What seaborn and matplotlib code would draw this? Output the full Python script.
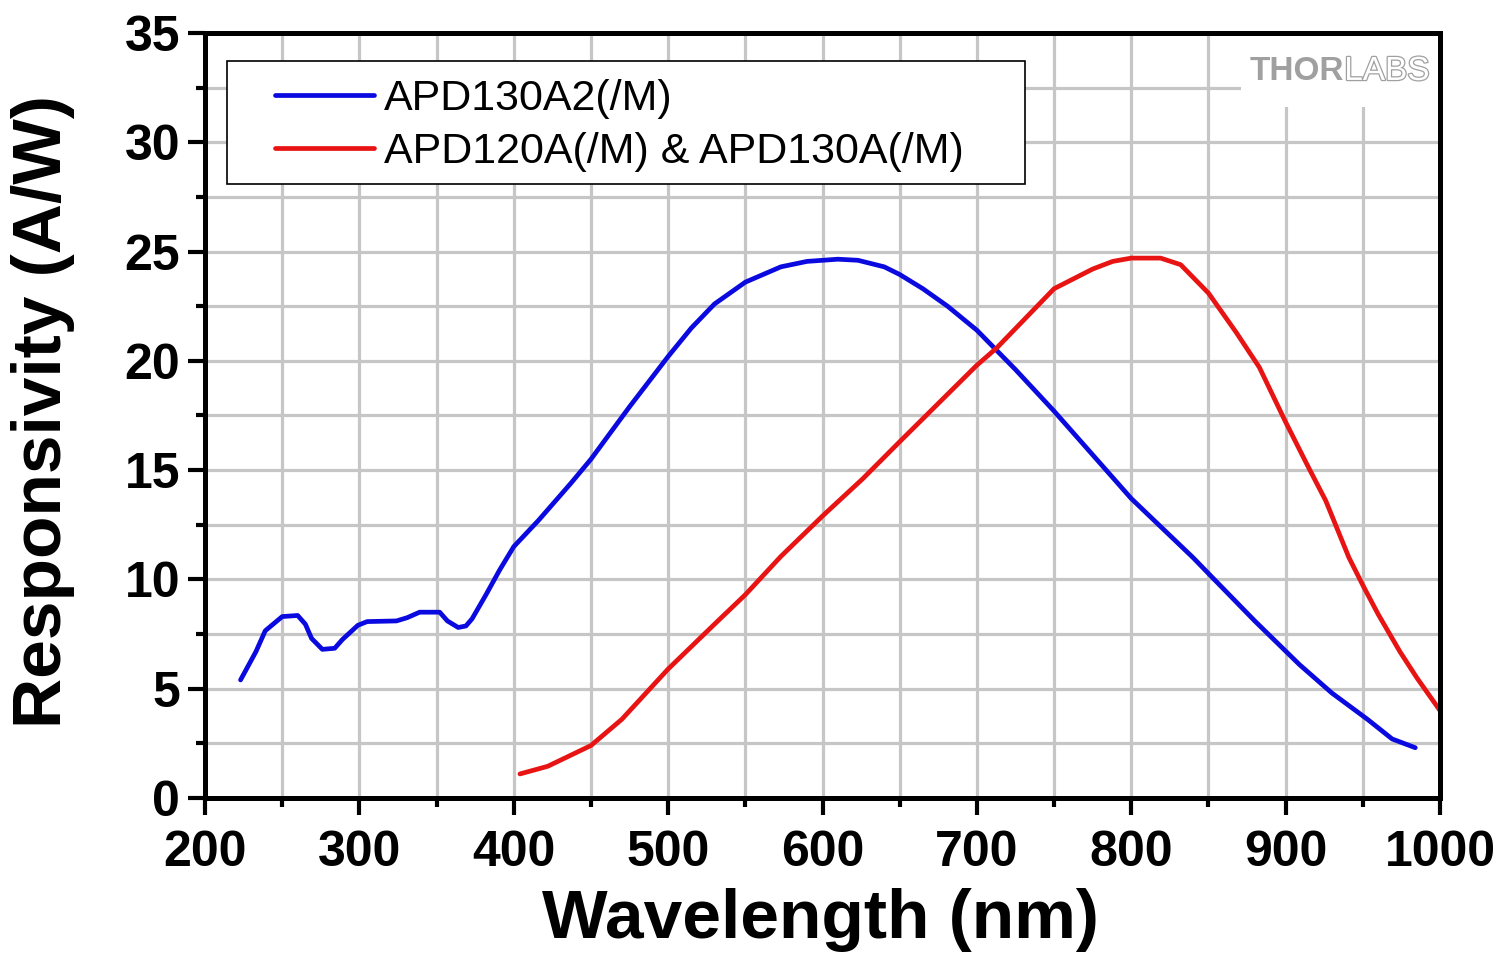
import matplotlib
matplotlib.use("Agg")
import matplotlib.pyplot as plt
import matplotlib.patheffects as pe
from matplotlib.patches import Rectangle
from matplotlib.ticker import MultipleLocator
import seaborn as sns
import pandas as pd

# ---- data ----
blue_nm = [223, 233, 239, 250, 260, 265, 269, 276, 284, 289, 299, 305, 324, 331, 339,
           352, 357, 364, 369, 373, 382, 391, 400, 416, 437, 450, 475, 500, 515, 530, 550,
           573, 590, 610, 623, 640, 650, 665, 681, 700, 725, 750, 775, 800, 840, 851, 880, 909, 930,
           953, 969, 984]
blue_val = [5.4, 6.7, 7.65, 8.3, 8.35, 7.95, 7.3, 6.8, 6.85, 7.25, 7.9, 8.07, 8.1, 8.25, 8.5,
            8.5, 8.1, 7.8, 7.87, 8.2, 9.3, 10.45, 11.5, 12.7, 14.4, 15.5, 17.9, 20.2, 21.5, 22.6, 23.6,
            24.3, 24.55, 24.65, 24.6, 24.3, 23.95, 23.3, 22.5, 21.4, 19.6, 17.7, 15.7, 13.7, 11.0, 10.2, 8.1, 6.1, 4.8,
            3.6, 2.7, 2.3]
red_nm = [404, 422, 450, 470, 500, 530, 550, 573, 600, 626, 650, 690, 700, 713, 750, 775, 788,
          800, 819, 832, 850, 868, 883, 900, 915, 926, 941, 951, 960, 974, 985, 1000]
red_val = [1.1, 1.45, 2.4, 3.6, 5.9, 7.95, 9.3, 11.05, 12.9, 14.6, 16.3, 19.1, 19.8, 20.6, 23.3, 24.2, 24.55,
           24.7, 24.7, 24.4, 23.1, 21.3, 19.7, 17.2, 15.1, 13.6, 11.0, 9.6, 8.4, 6.7, 5.5, 4.0]
series_labels = ["APD130A2(/M)", "APD120A(/M) & APD130A(/M)"]
series_colors = ["#0a0ae0", "#e81414"]
x_ticks = [200, 300, 400, 500, 600, 700, 800, 900, 1000]
y_ticks = [0, 5, 10, 15, 20, 25, 30, 35]

sns.set_style("white")
plt.rcParams["font.family"] = ["Liberation Sans", "DejaVu Sans"]
plt.rcParams["text.color"] = "black"
plt.rcParams["axes.labelcolor"] = "black"
plt.rcParams["xtick.color"] = "black"
plt.rcParams["ytick.color"] = "black"

fig = plt.figure(figsize=(15.11, 9.56), dpi=100)
ax = fig.add_axes([0.1357, 0.1653, 0.8173, 0.8002])

df_b = pd.DataFrame({"nm": blue_nm, "val": blue_val})
df_r = pd.DataFrame({"nm": red_nm, "val": red_val})
sns.lineplot(data=df_b, x="nm", y="val", ax=ax, color=series_colors[0], lw=3.4,
             label=series_labels[0], zorder=4, sort=False)
sns.lineplot(data=df_r, x="nm", y="val", ax=ax, color=series_colors[1], lw=3.4,
             label=series_labels[1], zorder=4, sort=False)

ax.set_xlim(200, 1000)
ax.set_ylim(0, 35)
ax.set_xticks(x_ticks)
ax.set_yticks(y_ticks)
ax.xaxis.set_minor_locator(MultipleLocator(50))
ax.yaxis.set_minor_locator(MultipleLocator(2.5))
ax.set_axisbelow(True)
ax.grid(which="both", color="#c6c6c6", lw=2.3, zorder=0.5)

for s in ax.spines.values():
    s.set_visible(True)
    s.set_color("black")
    s.set_linewidth(3.6)
    s.set_zorder(6)

ax.tick_params(which="major", direction="out", length=12, width=3, labelsize=36,
               color="black", labelcolor="black", bottom=True, left=True, top=False, right=False)
ax.tick_params(axis="x", which="major", pad=11)
ax.tick_params(axis="y", which="major", pad=6)
ax.tick_params(which="minor", direction="out", length=6.5, width=3, color="black",
               bottom=True, left=True, top=False, right=False)
for lab in ax.get_xticklabels() + ax.get_yticklabels():
    lab.set_fontweight("bold")

ax.set_xlabel("Wavelength (nm)", fontsize=50, fontweight="bold", color="black")
ax.set_ylabel("Responsivity (A/W)", fontsize=50, fontweight="bold", color="black")
ax.xaxis.set_label_coords(0.498, -0.118)
ax.yaxis.set_label_coords(-0.105, 0.505)

# legend box
ax.add_patch(Rectangle((0.0178, 0.8026), 0.646, 0.1608, transform=ax.transAxes,
                       facecolor="white", edgecolor="black", lw=1.2, zorder=3))
leg = ax.legend(loc="upper left", bbox_to_anchor=(0.0567, 0.940), frameon=False,
                fontsize=31, handlelength=2.3, handletextpad=0.22, labelspacing=0.3,
                borderpad=0, borderaxespad=0)
leg.set_zorder(7)
for line in leg.get_lines():
    line.set_linewidth(3.4)
for t in leg.get_texts():
    t.set_color("black")

# logo
ax.add_patch(Rectangle((0.839, 0.903), 0.161, 0.097, transform=ax.transAxes,
                       facecolor="white", edgecolor="none", zorder=3))
thor = ax.text(0.846, 0.9386, "THOR", transform=ax.transAxes, fontsize=24,
               fontweight="bold", color="#a0a0a0", va="baseline", ha="left", zorder=7)
ax.annotate("LABS", xy=(1, 0), xycoords=thor, xytext=(0, 0), textcoords="offset points",
            fontsize=24, color="white", va="bottom", ha="left", zorder=7,
            path_effects=[pe.withStroke(linewidth=1.8, foreground="#a0a0a0")])

fig.savefig("out.png", dpi=100)
